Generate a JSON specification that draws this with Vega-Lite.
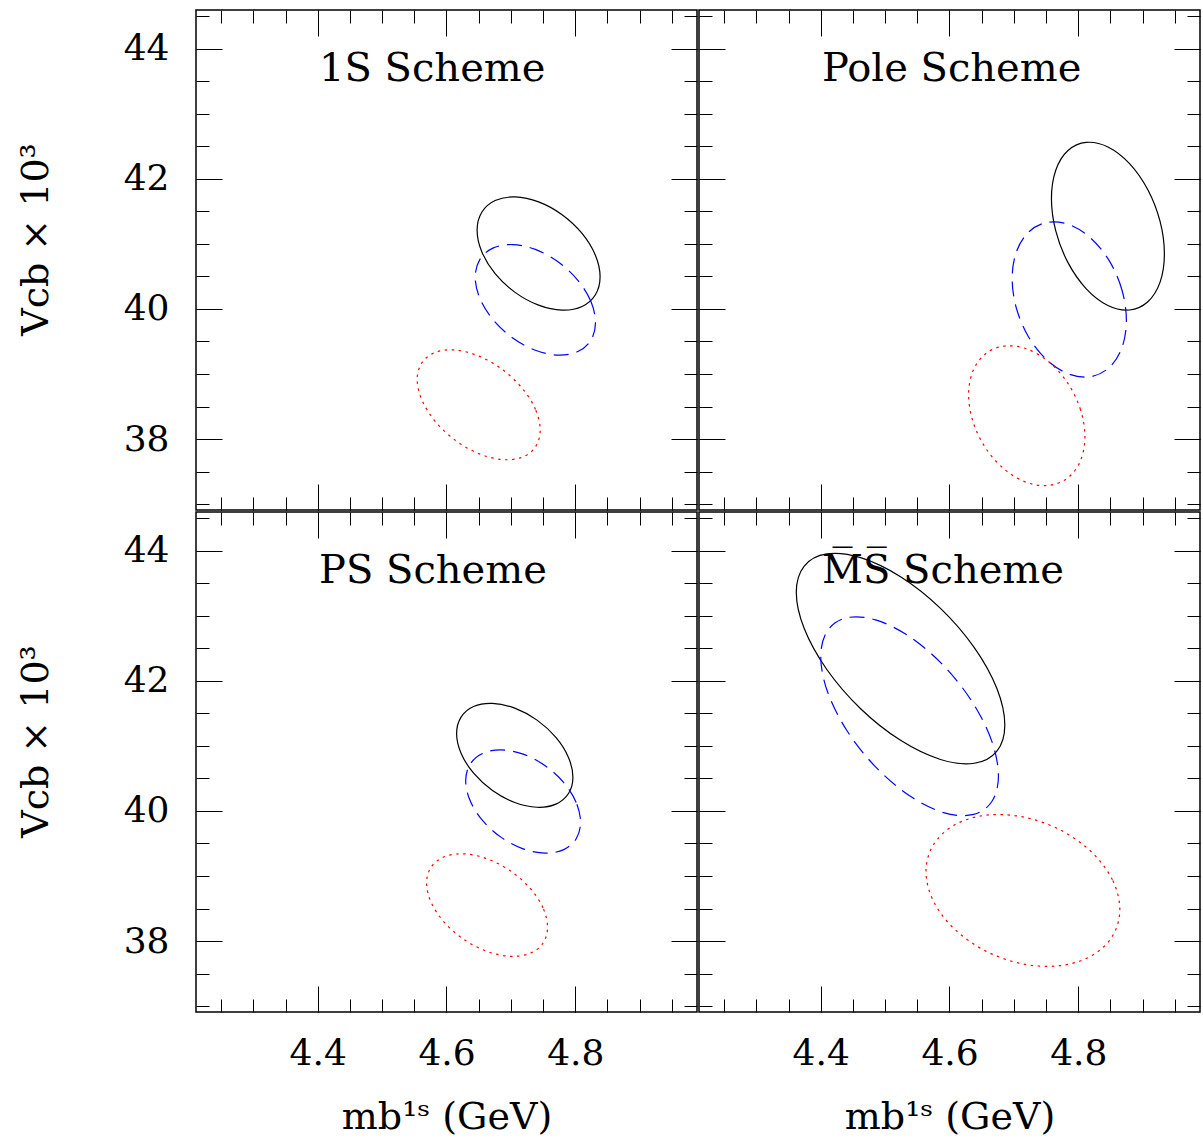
{
"$schema":"https://vega.github.io/schema/vega-lite/v6.json",
"background":"white",
"padding":{"left":16,"top":8,"right":0,"bottom":0},
"config":{
 "view":{"stroke":"#000","strokeWidth":1.5},
 "axis":{"domain":false,"grid":false,"tickColor":"#000","tickWidth":1,"labelFont":"DejaVu Serif","labelFontSize":36,"labelColor":"#000","titleFont":"DejaVu Serif","titleFontSize":38,"titleColor":"#000","titleFontWeight":"normal","minExtent":0,"labelFlush":false,"labelOverlap":false,"labelBound":false}
},
"datasets":{
 "ttl":[{"p":"1S","t":"1S Scheme"},{"p":"Pole","t":"Pole Scheme"},{"p":"PS","t":"PS Scheme"},{"p":"MS","t":"M̅S̅ Scheme"}],
 "ell":[
{"p":"1S","s":"solid","i":0,"x":4.8385,"y":40.495},{"p":"1S","s":"solid","i":1,"x":4.8312,"y":40.826},{"p":"1S","s":"solid","i":2,"x":4.8105,"y":41.161},{"p":"1S","s":"solid","i":3,"x":4.7795,"y":41.449},{"p":"1S","s":"solid","i":4,"x":4.743,"y":41.646},{"p":"1S","s":"solid","i":5,"x":4.7065,"y":41.722},{"p":"1S","s":"solid","i":6,"x":4.6755,"y":41.666},{"p":"1S","s":"solid","i":7,"x":4.6548,"y":41.486},{"p":"1S","s":"solid","i":8,"x":4.6475,"y":41.209},{"p":"1S","s":"solid","i":9,"x":4.6548,"y":40.878},{"p":"1S","s":"solid","i":10,"x":4.6755,"y":40.543},{"p":"1S","s":"solid","i":11,"x":4.7065,"y":40.255},{"p":"1S","s":"solid","i":12,"x":4.743,"y":40.058},{"p":"1S","s":"solid","i":13,"x":4.7795,"y":39.982},{"p":"1S","s":"solid","i":14,"x":4.8105,"y":40.038},{"p":"1S","s":"solid","i":15,"x":4.8312,"y":40.218},
{"p":"1S","s":"dash","i":0,"x":4.8314,"y":39.791},{"p":"1S","s":"dash","i":1,"x":4.8243,"y":40.114},{"p":"1S","s":"dash","i":2,"x":4.804,"y":40.441},{"p":"1S","s":"dash","i":3,"x":4.7737,"y":40.722},{"p":"1S","s":"dash","i":4,"x":4.738,"y":40.915},{"p":"1S","s":"dash","i":5,"x":4.7023,"y":40.99},{"p":"1S","s":"dash","i":6,"x":4.672,"y":40.935},{"p":"1S","s":"dash","i":7,"x":4.6517,"y":40.759},{"p":"1S","s":"dash","i":8,"x":4.6446,"y":40.489},{"p":"1S","s":"dash","i":9,"x":4.6517,"y":40.166},{"p":"1S","s":"dash","i":10,"x":4.672,"y":39.839},{"p":"1S","s":"dash","i":11,"x":4.7023,"y":39.558},{"p":"1S","s":"dash","i":12,"x":4.738,"y":39.365},{"p":"1S","s":"dash","i":13,"x":4.7737,"y":39.29},{"p":"1S","s":"dash","i":14,"x":4.804,"y":39.345},{"p":"1S","s":"dash","i":15,"x":4.8243,"y":39.521},
{"p":"1S","s":"dot","i":0,"x":4.7455,"y":38.138},{"p":"1S","s":"dot","i":1,"x":4.7382,"y":38.455},{"p":"1S","s":"dot","i":2,"x":4.7175,"y":38.782},{"p":"1S","s":"dot","i":3,"x":4.6865,"y":39.071},{"p":"1S","s":"dot","i":4,"x":4.65,"y":39.277},{"p":"1S","s":"dot","i":5,"x":4.6135,"y":39.369},{"p":"1S","s":"dot","i":6,"x":4.5825,"y":39.332},{"p":"1S","s":"dot","i":7,"x":4.5618,"y":39.173},{"p":"1S","s":"dot","i":8,"x":4.5545,"y":38.916},{"p":"1S","s":"dot","i":9,"x":4.5618,"y":38.6},{"p":"1S","s":"dot","i":10,"x":4.5825,"y":38.272},{"p":"1S","s":"dot","i":11,"x":4.6135,"y":37.983},{"p":"1S","s":"dot","i":12,"x":4.65,"y":37.777},{"p":"1S","s":"dot","i":13,"x":4.6865,"y":37.685},{"p":"1S","s":"dot","i":14,"x":4.7175,"y":37.722},{"p":"1S","s":"dot","i":15,"x":4.7382,"y":37.881},
{"p":"Pole","s":"solid","i":0,"x":4.9337,"y":40.846},{"p":"Pole","s":"solid","i":1,"x":4.927,"y":41.345},{"p":"Pole","s":"solid","i":2,"x":4.908,"y":41.832},{"p":"Pole","s":"solid","i":3,"x":4.8796,"y":42.234},{"p":"Pole","s":"solid","i":4,"x":4.846,"y":42.49},{"p":"Pole","s":"solid","i":5,"x":4.8124,"y":42.56},{"p":"Pole","s":"solid","i":6,"x":4.784,"y":42.435},{"p":"Pole","s":"solid","i":7,"x":4.765,"y":42.132},{"p":"Pole","s":"solid","i":8,"x":4.7583,"y":41.698},{"p":"Pole","s":"solid","i":9,"x":4.765,"y":41.2},{"p":"Pole","s":"solid","i":10,"x":4.784,"y":40.712},{"p":"Pole","s":"solid","i":11,"x":4.8124,"y":40.31},{"p":"Pole","s":"solid","i":12,"x":4.846,"y":40.054},{"p":"Pole","s":"solid","i":13,"x":4.8796,"y":39.984},{"p":"Pole","s":"solid","i":14,"x":4.908,"y":40.11},{"p":"Pole","s":"solid","i":15,"x":4.927,"y":40.412},
{"p":"Pole","s":"dash","i":0,"x":4.8747,"y":39.824},{"p":"Pole","s":"dash","i":1,"x":4.8679,"y":40.288},{"p":"Pole","s":"dash","i":2,"x":4.8487,"y":40.731},{"p":"Pole","s":"dash","i":3,"x":4.8199,"y":41.084},{"p":"Pole","s":"dash","i":4,"x":4.786,"y":41.295},{"p":"Pole","s":"dash","i":5,"x":4.7521,"y":41.331},{"p":"Pole","s":"dash","i":6,"x":4.7233,"y":41.186},{"p":"Pole","s":"dash","i":7,"x":4.7041,"y":40.883},{"p":"Pole","s":"dash","i":8,"x":4.6973,"y":40.468},{"p":"Pole","s":"dash","i":9,"x":4.7041,"y":40.004},{"p":"Pole","s":"dash","i":10,"x":4.7233,"y":39.561},{"p":"Pole","s":"dash","i":11,"x":4.7521,"y":39.208},{"p":"Pole","s":"dash","i":12,"x":4.786,"y":38.997},{"p":"Pole","s":"dash","i":13,"x":4.8199,"y":38.961},{"p":"Pole","s":"dash","i":14,"x":4.8487,"y":39.106},{"p":"Pole","s":"dash","i":15,"x":4.8679,"y":39.409},
{"p":"Pole","s":"dot","i":0,"x":4.8103,"y":38.037},{"p":"Pole","s":"dot","i":1,"x":4.8034,"y":38.454},{"p":"Pole","s":"dot","i":2,"x":4.7839,"y":38.856},{"p":"Pole","s":"dot","i":3,"x":4.7546,"y":39.184},{"p":"Pole","s":"dot","i":4,"x":4.72,"y":39.385},{"p":"Pole","s":"dot","i":5,"x":4.6854,"y":39.43},{"p":"Pole","s":"dot","i":6,"x":4.6561,"y":39.313},{"p":"Pole","s":"dot","i":7,"x":4.6366,"y":39.05},{"p":"Pole","s":"dot","i":8,"x":4.6297,"y":38.682},{"p":"Pole","s":"dot","i":9,"x":4.6366,"y":38.265},{"p":"Pole","s":"dot","i":10,"x":4.6561,"y":37.862},{"p":"Pole","s":"dot","i":11,"x":4.6854,"y":37.535},{"p":"Pole","s":"dot","i":12,"x":4.72,"y":37.333},{"p":"Pole","s":"dot","i":13,"x":4.7546,"y":37.288},{"p":"Pole","s":"dot","i":14,"x":4.7839,"y":37.406},{"p":"Pole","s":"dot","i":15,"x":4.8034,"y":37.668},
{"p":"PS","s":"solid","i":0,"x":4.7963,"y":40.52},{"p":"PS","s":"solid","i":1,"x":4.7894,"y":40.823},{"p":"PS","s":"solid","i":2,"x":4.7699,"y":41.13},{"p":"PS","s":"solid","i":3,"x":4.7406,"y":41.396},{"p":"PS","s":"solid","i":4,"x":4.706,"y":41.58},{"p":"PS","s":"solid","i":5,"x":4.6714,"y":41.653},{"p":"PS","s":"solid","i":6,"x":4.6421,"y":41.605},{"p":"PS","s":"solid","i":7,"x":4.6226,"y":41.443},{"p":"PS","s":"solid","i":8,"x":4.6157,"y":41.191},{"p":"PS","s":"solid","i":9,"x":4.6226,"y":40.888},{"p":"PS","s":"solid","i":10,"x":4.6421,"y":40.58},{"p":"PS","s":"solid","i":11,"x":4.6714,"y":40.314},{"p":"PS","s":"solid","i":12,"x":4.706,"y":40.13},{"p":"PS","s":"solid","i":13,"x":4.7406,"y":40.057},{"p":"PS","s":"solid","i":14,"x":4.7699,"y":40.105},{"p":"PS","s":"solid","i":15,"x":4.7894,"y":40.268},
{"p":"PS","s":"dash","i":0,"x":4.8082,"y":39.827},{"p":"PS","s":"dash","i":1,"x":4.8014,"y":40.13},{"p":"PS","s":"dash","i":2,"x":4.7821,"y":40.435},{"p":"PS","s":"dash","i":3,"x":4.7531,"y":40.696},{"p":"PS","s":"dash","i":4,"x":4.719,"y":40.873},{"p":"PS","s":"dash","i":5,"x":4.6849,"y":40.939},{"p":"PS","s":"dash","i":6,"x":4.6559,"y":40.884},{"p":"PS","s":"dash","i":7,"x":4.6366,"y":40.717},{"p":"PS","s":"dash","i":8,"x":4.6298,"y":40.463},{"p":"PS","s":"dash","i":9,"x":4.6366,"y":40.16},{"p":"PS","s":"dash","i":10,"x":4.6559,"y":39.855},{"p":"PS","s":"dash","i":11,"x":4.6849,"y":39.594},{"p":"PS","s":"dash","i":12,"x":4.719,"y":39.417},{"p":"PS","s":"dash","i":13,"x":4.7531,"y":39.351},{"p":"PS","s":"dash","i":14,"x":4.7821,"y":39.406},{"p":"PS","s":"dash","i":15,"x":4.8014,"y":39.573},
{"p":"PS","s":"dot","i":0,"x":4.7569,"y":38.214},{"p":"PS","s":"dot","i":1,"x":4.7498,"y":38.512},{"p":"PS","s":"dot","i":2,"x":4.7294,"y":38.817},{"p":"PS","s":"dot","i":3,"x":4.6989,"y":39.081},{"p":"PS","s":"dot","i":4,"x":4.663,"y":39.265},{"p":"PS","s":"dot","i":5,"x":4.6271,"y":39.341},{"p":"PS","s":"dot","i":6,"x":4.5966,"y":39.296},{"p":"PS","s":"dot","i":7,"x":4.5762,"y":39.139},{"p":"PS","s":"dot","i":8,"x":4.5691,"y":38.892},{"p":"PS","s":"dot","i":9,"x":4.5762,"y":38.594},{"p":"PS","s":"dot","i":10,"x":4.5966,"y":38.289},{"p":"PS","s":"dot","i":11,"x":4.6271,"y":38.025},{"p":"PS","s":"dot","i":12,"x":4.663,"y":37.841},{"p":"PS","s":"dot","i":13,"x":4.6989,"y":37.766},{"p":"PS","s":"dot","i":14,"x":4.7294,"y":37.81},{"p":"PS","s":"dot","i":15,"x":4.7498,"y":37.967},
{"p":"MS","s":"solid","i":0,"x":4.6859,"y":41.323},{"p":"MS","s":"solid","i":1,"x":4.6736,"y":41.881},{"p":"MS","s":"solid","i":2,"x":4.6385,"y":42.51},{"p":"MS","s":"solid","i":3,"x":4.586,"y":43.113},{"p":"MS","s":"solid","i":4,"x":4.524,"y":43.599},{"p":"MS","s":"solid","i":5,"x":4.462,"y":43.893},{"p":"MS","s":"solid","i":6,"x":4.4095,"y":43.951},{"p":"MS","s":"solid","i":7,"x":4.3744,"y":43.764},{"p":"MS","s":"solid","i":8,"x":4.3621,"y":43.361},{"p":"MS","s":"solid","i":9,"x":4.3744,"y":42.803},{"p":"MS","s":"solid","i":10,"x":4.4095,"y":42.174},{"p":"MS","s":"solid","i":11,"x":4.462,"y":41.571},{"p":"MS","s":"solid","i":12,"x":4.524,"y":41.085},{"p":"MS","s":"solid","i":13,"x":4.586,"y":40.791},{"p":"MS","s":"solid","i":14,"x":4.6385,"y":40.733},{"p":"MS","s":"solid","i":15,"x":4.6736,"y":40.92},
{"p":"MS","s":"dash","i":0,"x":4.676,"y":40.539},{"p":"MS","s":"dash","i":1,"x":4.6655,"y":41.077},{"p":"MS","s":"dash","i":2,"x":4.6356,"y":41.672},{"p":"MS","s":"dash","i":3,"x":4.5908,"y":42.235},{"p":"MS","s":"dash","i":4,"x":4.538,"y":42.679},{"p":"MS","s":"dash","i":5,"x":4.4852,"y":42.937},{"p":"MS","s":"dash","i":6,"x":4.4404,"y":42.969},{"p":"MS","s":"dash","i":7,"x":4.4105,"y":42.771},{"p":"MS","s":"dash","i":8,"x":4.4,"y":42.373},{"p":"MS","s":"dash","i":9,"x":4.4105,"y":41.835},{"p":"MS","s":"dash","i":10,"x":4.4404,"y":41.24},{"p":"MS","s":"dash","i":11,"x":4.4852,"y":40.677},{"p":"MS","s":"dash","i":12,"x":4.538,"y":40.233},{"p":"MS","s":"dash","i":13,"x":4.5908,"y":39.975},{"p":"MS","s":"dash","i":14,"x":4.6356,"y":39.943},{"p":"MS","s":"dash","i":15,"x":4.6655,"y":40.141},
{"p":"MS","s":"dot","i":0,"x":4.8645,"y":38.486},{"p":"MS","s":"dot","i":1,"x":4.853,"y":38.941},{"p":"MS","s":"dot","i":2,"x":4.8204,"y":39.371},{"p":"MS","s":"dot","i":3,"x":4.7716,"y":39.71},{"p":"MS","s":"dot","i":4,"x":4.714,"y":39.908},{"p":"MS","s":"dot","i":5,"x":4.6564,"y":39.934},{"p":"MS","s":"dot","i":6,"x":4.6076,"y":39.784},{"p":"MS","s":"dot","i":7,"x":4.575,"y":39.48},{"p":"MS","s":"dot","i":8,"x":4.5635,"y":39.07},{"p":"MS","s":"dot","i":9,"x":4.575,"y":38.615},{"p":"MS","s":"dot","i":10,"x":4.6076,"y":38.186},{"p":"MS","s":"dot","i":11,"x":4.6564,"y":37.846},{"p":"MS","s":"dot","i":12,"x":4.714,"y":37.648},{"p":"MS","s":"dot","i":13,"x":4.7716,"y":37.622},{"p":"MS","s":"dot","i":14,"x":4.8204,"y":37.773},{"p":"MS","s":"dot","i":15,"x":4.853,"y":38.076}
 ]
},
"spacing":-4.5,
"vconcat":[
{"spacing":-5,"hconcat":[
 {"width":501,"height":500,"resolve":{"axis":{"x":"independent","y":"independent"}},
  "layer":[
   {"data":{"name":"ell"},"transform":[{"filter":"datum.p=='1S' && datum.s=='solid'"}],
    "mark":{"type":"line","interpolate":"cardinal-closed","color":"#000","strokeWidth":1.2},
    "encoding":{"x":{"field":"x","type":"quantitative","scale":{"domain":[4.211,4.989],"nice":false,"zero":false},"axis":{"orient":"bottom","values":[4.4,4.6,4.8],"tickSize":26,"offset":-26,"labels":false,"title":null}},
     "y":{"field":"y","type":"quantitative","scale":{"domain":[36.91,44.595],"nice":false,"zero":false},"axis":{"orient":"left","values":[38,40,42,44],"tickSize":26,"offset":-26,"labelPadding":27,"format":"d","title":"Vcb × 10³","titleAngle":270,"titleBaseline":"alphabetic","titleX":-174.7,"titleY":229}},
     "order":{"field":"i","type":"quantitative"}}},
   {"data":{"name":"ell"},"transform":[{"filter":"datum.p=='1S' && datum.s=='dash'"}],
    "mark":{"type":"line","interpolate":"cardinal-closed","color":"#0000ff","strokeWidth":1.2,"strokeDash":[15,8]},
    "encoding":{"x":{"field":"x","type":"quantitative","scale":{"domain":[4.211,4.989],"nice":false,"zero":false},"axis":{"orient":"bottom","values":[4.25,4.3,4.35,4.4,4.45,4.5,4.55,4.6,4.65,4.7,4.75,4.8,4.85,4.9,4.95],"tickSize":13,"offset":-13,"labels":false,"title":null}},
     "y":{"field":"y","type":"quantitative","scale":{"domain":[36.91,44.595],"nice":false,"zero":false},"axis":{"orient":"left","values":[37,37.5,38,38.5,39,39.5,40,40.5,41,41.5,42,42.5,43,43.5,44,44.5],"tickSize":13,"offset":-13,"labels":false,"title":null}},
     "order":{"field":"i","type":"quantitative"}}},
   {"data":{"name":"ell"},"transform":[{"filter":"datum.p=='1S' && datum.s=='dot'"}],
    "mark":{"type":"line","interpolate":"cardinal-closed","color":"#ff0000","strokeWidth":1.2,"strokeDash":[2.5,4.5]},
    "encoding":{"x":{"field":"x","type":"quantitative","scale":{"domain":[4.211,4.989],"nice":false,"zero":false},"axis":{"orient":"top","values":[4.4,4.6,4.8],"tickSize":26,"offset":-26,"labels":false,"title":null}},
     "y":{"field":"y","type":"quantitative","scale":{"domain":[36.91,44.595],"nice":false,"zero":false},"axis":{"orient":"right","values":[38,40,42,44],"tickSize":26,"offset":-26,"labels":false,"title":null}},
     "order":{"field":"i","type":"quantitative"}}},
   {"data":{"name":"ttl"},"transform":[{"filter":"datum.p=='1S'"}],
    "mark":{"type":"text","align":"left","baseline":"alphabetic","font":"DejaVu Serif","fontSize":40,"color":"#000"},
    "encoding":{"x":{"datum":4.402,"type":"quantitative","scale":{"domain":[4.211,4.989],"nice":false,"zero":false},"axis":{"orient":"top","values":[4.25,4.3,4.35,4.4,4.45,4.5,4.55,4.6,4.65,4.7,4.75,4.8,4.85,4.9,4.95],"tickSize":13,"offset":-13,"labels":false,"title":null}},
     "y":{"datum":43.5,"type":"quantitative","scale":{"domain":[36.91,44.595],"nice":false,"zero":false},"axis":{"orient":"right","values":[37,37.5,38,38.5,39,39.5,40,40.5,41,41.5,42,42.5,43,43.5,44,44.5],"tickSize":13,"offset":-13,"labels":false,"title":null}},
     "text":{"field":"t"}}}
  ]},
 {"width":501,"height":500,"resolve":{"axis":{"x":"independent","y":"independent"}},
  "layer":[
   {"data":{"name":"ell"},"transform":[{"filter":"datum.p=='Pole' && datum.s=='solid'"}],
    "mark":{"type":"line","interpolate":"cardinal-closed","color":"#000","strokeWidth":1.2},
    "encoding":{"x":{"field":"x","type":"quantitative","scale":{"domain":[4.211,4.989],"nice":false,"zero":false},"axis":{"orient":"bottom","values":[4.4,4.6,4.8],"tickSize":26,"offset":-26,"labels":false,"title":null}},
     "y":{"field":"y","type":"quantitative","scale":{"domain":[36.91,44.595],"nice":false,"zero":false},"axis":{"orient":"left","values":[38,40,42,44],"tickSize":26,"offset":-26,"labels":false,"title":null}},
     "order":{"field":"i","type":"quantitative"}}},
   {"data":{"name":"ell"},"transform":[{"filter":"datum.p=='Pole' && datum.s=='dash'"}],
    "mark":{"type":"line","interpolate":"cardinal-closed","color":"#0000ff","strokeWidth":1.2,"strokeDash":[15,8]},
    "encoding":{"x":{"field":"x","type":"quantitative","scale":{"domain":[4.211,4.989],"nice":false,"zero":false},"axis":{"orient":"bottom","values":[4.25,4.3,4.35,4.4,4.45,4.5,4.55,4.6,4.65,4.7,4.75,4.8,4.85,4.9,4.95],"tickSize":13,"offset":-13,"labels":false,"title":null}},
     "y":{"field":"y","type":"quantitative","scale":{"domain":[36.91,44.595],"nice":false,"zero":false},"axis":{"orient":"left","values":[37,37.5,38,38.5,39,39.5,40,40.5,41,41.5,42,42.5,43,43.5,44,44.5],"tickSize":13,"offset":-13,"labels":false,"title":null}},
     "order":{"field":"i","type":"quantitative"}}},
   {"data":{"name":"ell"},"transform":[{"filter":"datum.p=='Pole' && datum.s=='dot'"}],
    "mark":{"type":"line","interpolate":"cardinal-closed","color":"#ff0000","strokeWidth":1.2,"strokeDash":[2.5,4.5]},
    "encoding":{"x":{"field":"x","type":"quantitative","scale":{"domain":[4.211,4.989],"nice":false,"zero":false},"axis":{"orient":"top","values":[4.4,4.6,4.8],"tickSize":26,"offset":-26,"labels":false,"title":null}},
     "y":{"field":"y","type":"quantitative","scale":{"domain":[36.91,44.595],"nice":false,"zero":false},"axis":{"orient":"right","values":[38,40,42,44],"tickSize":26,"offset":-26,"labels":false,"title":null}},
     "order":{"field":"i","type":"quantitative"}}},
   {"data":{"name":"ttl"},"transform":[{"filter":"datum.p=='Pole'"}],
    "mark":{"type":"text","align":"left","baseline":"alphabetic","font":"DejaVu Serif","fontSize":40,"color":"#000"},
    "encoding":{"x":{"datum":4.402,"type":"quantitative","scale":{"domain":[4.211,4.989],"nice":false,"zero":false},"axis":{"orient":"top","values":[4.25,4.3,4.35,4.4,4.45,4.5,4.55,4.6,4.65,4.7,4.75,4.8,4.85,4.9,4.95],"tickSize":13,"offset":-13,"labels":false,"title":null}},
     "y":{"datum":43.5,"type":"quantitative","scale":{"domain":[36.91,44.595],"nice":false,"zero":false},"axis":{"orient":"right","values":[37,37.5,38,38.5,39,39.5,40,40.5,41,41.5,42,42.5,43,43.5,44,44.5],"tickSize":13,"offset":-13,"labels":false,"title":null}},
     "text":{"field":"t"}}}
  ]}
]},
{"spacing":-5,"hconcat":[
 {"width":501,"height":500,"resolve":{"axis":{"x":"independent","y":"independent"}},
  "layer":[
   {"data":{"name":"ell"},"transform":[{"filter":"datum.p=='PS' && datum.s=='solid'"}],
    "mark":{"type":"line","interpolate":"cardinal-closed","color":"#000","strokeWidth":1.2},
    "encoding":{"x":{"field":"x","type":"quantitative","scale":{"domain":[4.211,4.989],"nice":false,"zero":false},"axis":{"orient":"bottom","values":[4.4,4.6,4.8],"tickSize":26,"offset":-26,"labelPadding":24,"format":".1f","title":"mb¹ˢ (GeV)","titleBaseline":"alphabetic","titleY":142.5}},
     "y":{"field":"y","type":"quantitative","scale":{"domain":[36.91,44.595],"nice":false,"zero":false},"axis":{"orient":"left","values":[38,40,42,44],"tickSize":26,"offset":-26,"labelPadding":27,"format":"d","title":"Vcb × 10³","titleAngle":270,"titleBaseline":"alphabetic","titleX":-174.7,"titleY":229}},
     "order":{"field":"i","type":"quantitative"}}},
   {"data":{"name":"ell"},"transform":[{"filter":"datum.p=='PS' && datum.s=='dash'"}],
    "mark":{"type":"line","interpolate":"cardinal-closed","color":"#0000ff","strokeWidth":1.2,"strokeDash":[15,8]},
    "encoding":{"x":{"field":"x","type":"quantitative","scale":{"domain":[4.211,4.989],"nice":false,"zero":false},"axis":{"orient":"bottom","values":[4.25,4.3,4.35,4.4,4.45,4.5,4.55,4.6,4.65,4.7,4.75,4.8,4.85,4.9,4.95],"tickSize":13,"offset":-13,"labels":false,"title":null}},
     "y":{"field":"y","type":"quantitative","scale":{"domain":[36.91,44.595],"nice":false,"zero":false},"axis":{"orient":"left","values":[37,37.5,38,38.5,39,39.5,40,40.5,41,41.5,42,42.5,43,43.5,44,44.5],"tickSize":13,"offset":-13,"labels":false,"title":null}},
     "order":{"field":"i","type":"quantitative"}}},
   {"data":{"name":"ell"},"transform":[{"filter":"datum.p=='PS' && datum.s=='dot'"}],
    "mark":{"type":"line","interpolate":"cardinal-closed","color":"#ff0000","strokeWidth":1.2,"strokeDash":[2.5,4.5]},
    "encoding":{"x":{"field":"x","type":"quantitative","scale":{"domain":[4.211,4.989],"nice":false,"zero":false},"axis":{"orient":"top","values":[4.4,4.6,4.8],"tickSize":26,"offset":-26,"labels":false,"title":null}},
     "y":{"field":"y","type":"quantitative","scale":{"domain":[36.91,44.595],"nice":false,"zero":false},"axis":{"orient":"right","values":[38,40,42,44],"tickSize":26,"offset":-26,"labels":false,"title":null}},
     "order":{"field":"i","type":"quantitative"}}},
   {"data":{"name":"ttl"},"transform":[{"filter":"datum.p=='PS'"}],
    "mark":{"type":"text","align":"left","baseline":"alphabetic","font":"DejaVu Serif","fontSize":40,"color":"#000"},
    "encoding":{"x":{"datum":4.402,"type":"quantitative","scale":{"domain":[4.211,4.989],"nice":false,"zero":false},"axis":{"orient":"top","values":[4.25,4.3,4.35,4.4,4.45,4.5,4.55,4.6,4.65,4.7,4.75,4.8,4.85,4.9,4.95],"tickSize":13,"offset":-13,"labels":false,"title":null}},
     "y":{"datum":43.5,"type":"quantitative","scale":{"domain":[36.91,44.595],"nice":false,"zero":false},"axis":{"orient":"right","values":[37,37.5,38,38.5,39,39.5,40,40.5,41,41.5,42,42.5,43,43.5,44,44.5],"tickSize":13,"offset":-13,"labels":false,"title":null}},
     "text":{"field":"t"}}}
  ]},
 {"width":501,"height":500,"resolve":{"axis":{"x":"independent","y":"independent"}},
  "layer":[
   {"data":{"name":"ell"},"transform":[{"filter":"datum.p=='MS' && datum.s=='solid'"}],
    "mark":{"type":"line","interpolate":"cardinal-closed","color":"#000","strokeWidth":1.2},
    "encoding":{"x":{"field":"x","type":"quantitative","scale":{"domain":[4.211,4.989],"nice":false,"zero":false},"axis":{"orient":"bottom","values":[4.4,4.6,4.8],"tickSize":26,"offset":-26,"labelPadding":24,"format":".1f","title":"mb¹ˢ (GeV)","titleBaseline":"alphabetic","titleY":142.5}},
     "y":{"field":"y","type":"quantitative","scale":{"domain":[36.91,44.595],"nice":false,"zero":false},"axis":{"orient":"left","values":[38,40,42,44],"tickSize":26,"offset":-26,"labels":false,"title":null}},
     "order":{"field":"i","type":"quantitative"}}},
   {"data":{"name":"ell"},"transform":[{"filter":"datum.p=='MS' && datum.s=='dash'"}],
    "mark":{"type":"line","interpolate":"cardinal-closed","color":"#0000ff","strokeWidth":1.2,"strokeDash":[15,8]},
    "encoding":{"x":{"field":"x","type":"quantitative","scale":{"domain":[4.211,4.989],"nice":false,"zero":false},"axis":{"orient":"bottom","values":[4.25,4.3,4.35,4.4,4.45,4.5,4.55,4.6,4.65,4.7,4.75,4.8,4.85,4.9,4.95],"tickSize":13,"offset":-13,"labels":false,"title":null}},
     "y":{"field":"y","type":"quantitative","scale":{"domain":[36.91,44.595],"nice":false,"zero":false},"axis":{"orient":"left","values":[37,37.5,38,38.5,39,39.5,40,40.5,41,41.5,42,42.5,43,43.5,44,44.5],"tickSize":13,"offset":-13,"labels":false,"title":null}},
     "order":{"field":"i","type":"quantitative"}}},
   {"data":{"name":"ell"},"transform":[{"filter":"datum.p=='MS' && datum.s=='dot'"}],
    "mark":{"type":"line","interpolate":"cardinal-closed","color":"#ff0000","strokeWidth":1.2,"strokeDash":[2.5,4.5]},
    "encoding":{"x":{"field":"x","type":"quantitative","scale":{"domain":[4.211,4.989],"nice":false,"zero":false},"axis":{"orient":"top","values":[4.4,4.6,4.8],"tickSize":26,"offset":-26,"labels":false,"title":null}},
     "y":{"field":"y","type":"quantitative","scale":{"domain":[36.91,44.595],"nice":false,"zero":false},"axis":{"orient":"right","values":[38,40,42,44],"tickSize":26,"offset":-26,"labels":false,"title":null}},
     "order":{"field":"i","type":"quantitative"}}},
   {"data":{"name":"ttl"},"transform":[{"filter":"datum.p=='MS'"}],
    "mark":{"type":"text","align":"left","baseline":"alphabetic","font":"DejaVu Serif","fontSize":40,"color":"#000"},
    "encoding":{"x":{"datum":4.402,"type":"quantitative","scale":{"domain":[4.211,4.989],"nice":false,"zero":false},"axis":{"orient":"top","values":[4.25,4.3,4.35,4.4,4.45,4.5,4.55,4.6,4.65,4.7,4.75,4.8,4.85,4.9,4.95],"tickSize":13,"offset":-13,"labels":false,"title":null}},
     "y":{"datum":43.5,"type":"quantitative","scale":{"domain":[36.91,44.595],"nice":false,"zero":false},"axis":{"orient":"right","values":[37,37.5,38,38.5,39,39.5,40,40.5,41,41.5,42,42.5,43,43.5,44,44.5],"tickSize":13,"offset":-13,"labels":false,"title":null}},
     "text":{"field":"t"}}}
  ]}
]}
]
}
